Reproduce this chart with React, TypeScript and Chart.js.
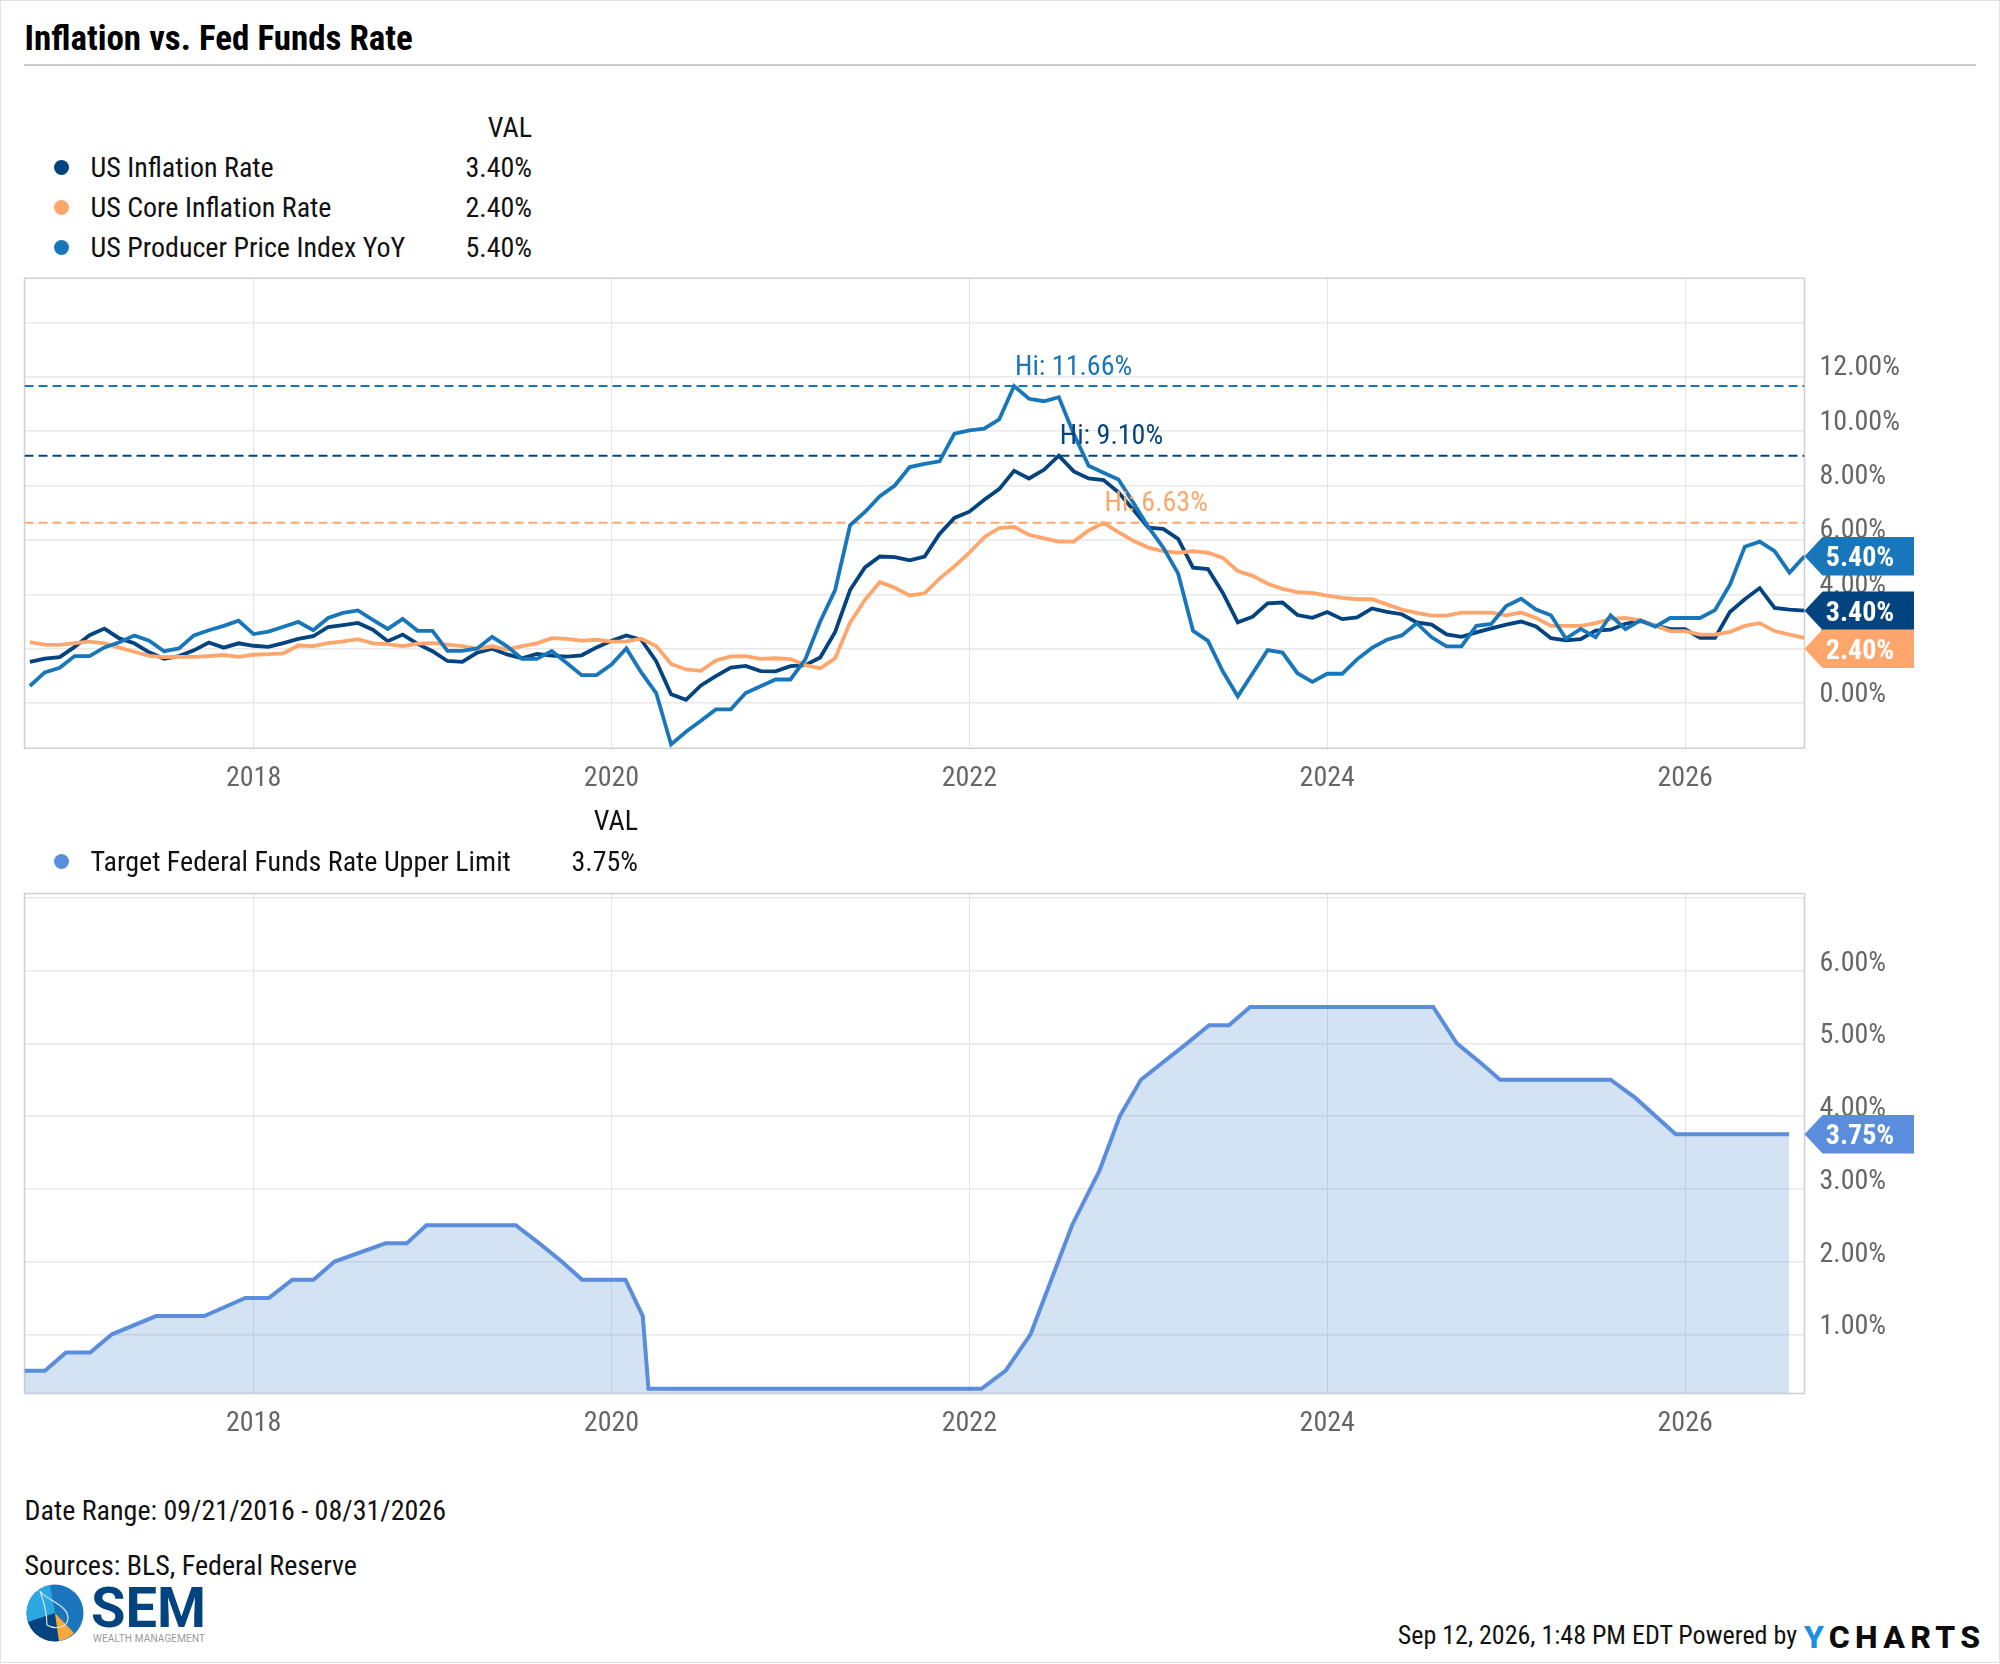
import { useEffect, useRef } from "react";
import type { CSSProperties } from "react";
import Chart from "chart.js/auto";

// monthly readings, Sep 2016 through Aug 2026
const inflation = [
  1.52, 1.64, 1.69, 2.07,
  2.5, 2.74, 2.38, 2.2, 1.87, 1.63, 1.73, 1.94, 2.23, 2.04, 2.2, 2.11,
  2.07, 2.21, 2.36, 2.46, 2.8, 2.87, 2.95, 2.7, 2.28, 2.52, 2.18, 1.91,
  1.55, 1.52, 1.86, 2.0, 1.79, 1.65, 1.81, 1.75, 1.71, 1.76, 2.05, 2.29,
  2.49, 2.33, 1.54, 0.33, 0.12, 0.65, 0.99, 1.31, 1.37, 1.18, 1.17, 1.36,
  1.4, 1.68, 2.62, 4.16, 4.99, 5.39, 5.37, 5.25, 5.39, 6.22, 6.81, 7.04,
  7.48, 7.87, 8.54, 8.26, 8.58, 9.1, 8.52, 8.26, 8.2, 7.75, 7.11, 6.45,
  6.41, 6.04, 4.98, 4.93, 4.05, 2.97, 3.18, 3.67, 3.7, 3.24, 3.14, 3.35,
  3.09, 3.15, 3.48, 3.36, 3.27, 2.97, 2.89, 2.53, 2.44, 2.6, 2.75, 2.89,
  3.0, 2.82, 2.39, 2.31, 2.35, 2.67, 2.7, 2.92, 3.02, 2.85, 2.72, 2.72,
  2.4, 2.4, 3.35, 3.82, 4.23, 3.5, 3.44, 3.4,
];
const coreInflation = [
  2.24, 2.15, 2.14, 2.21,
  2.26, 2.2, 2.04, 1.89, 1.74, 1.69, 1.7, 1.7, 1.73, 1.77, 1.7, 1.78,
  1.8, 1.83, 2.12, 2.1, 2.21, 2.27, 2.35, 2.2, 2.17, 2.1, 2.19, 2.21,
  2.15, 2.1, 2.0, 2.09, 1.97, 2.1, 2.2, 2.39, 2.36, 2.3, 2.33, 2.26,
  2.27, 2.37, 2.1, 1.44, 1.24, 1.19, 1.57, 1.72, 1.73, 1.63, 1.65, 1.62,
  1.4, 1.28, 1.65, 2.96, 3.8, 4.45, 4.24, 3.96, 4.04, 4.58, 5.03, 5.53,
  6.1, 6.44, 6.48, 6.19, 6.06, 5.94, 5.94, 6.35, 6.63, 6.29, 5.97, 5.72,
  5.59, 5.53, 5.59, 5.53, 5.34, 4.86, 4.68, 4.39, 4.2, 4.08, 4.05, 3.95,
  3.87, 3.82, 3.82, 3.63, 3.44, 3.32, 3.22, 3.22, 3.33, 3.33, 3.33, 3.23,
  3.33, 3.13, 2.84, 2.84, 2.84, 2.94, 3.1, 3.13, 3.04, 2.85, 2.65, 2.65,
  2.52, 2.52, 2.62, 2.84, 2.94, 2.65, 2.52, 2.4,
];
const producerPrices = [
  0.63, 1.13, 1.3, 1.73,
  1.73, 2.05, 2.24, 2.49, 2.3, 1.91, 2.01, 2.49, 2.68, 2.84, 3.03, 2.54,
  2.63, 2.81, 2.99, 2.68, 3.13, 3.32, 3.41, 3.06, 2.73, 3.1, 2.66, 2.66,
  1.92, 1.92, 2.01, 2.44, 2.09, 1.63, 1.63, 1.92, 1.48, 1.03, 1.03, 1.42,
  2.01, 1.13, 0.37, -1.52, -1.05, -0.65, -0.23, -0.23, 0.37, 0.62, 0.87, 0.87,
  1.61, 3.0, 4.16, 6.54, 7.03, 7.61, 8.0, 8.68, 8.8, 8.89, 9.91, 10.03,
  10.09, 10.43, 11.66, 11.19, 11.1, 11.25, 9.9, 8.73, 8.47, 8.22, 7.37, 6.48,
  5.72, 4.77, 2.66, 2.29, 1.16, 0.25, 1.1, 1.95, 1.86, 1.1, 0.78, 1.08,
  1.08, 1.61, 2.03, 2.33, 2.49, 2.94, 2.42, 2.09, 2.09, 2.84, 2.91, 3.57,
  3.84, 3.44, 3.23, 2.37, 2.73, 2.42, 3.23, 2.72, 3.04, 2.81, 3.13, 3.13,
  3.13, 3.42, 4.35, 5.75, 5.94, 5.59, 4.8, 5.4,
];
// fed funds only changes at meetings, so these are the corners of the line
const fedDates = [
  2016.72, 2016.834, 2016.952, 2017.087, 2017.209, 2017.455, 2017.725, 2017.954,
  2018.086, 2018.217, 2018.335, 2018.453, 2018.738, 2018.856, 2018.966, 2019.465,
  2019.597, 2019.722, 2019.836, 2020.078, 2020.175, 2020.207, 2022.068, 2022.203,
  2022.342, 2022.574, 2022.727, 2022.841, 2022.959, 2023.216, 2023.34, 2023.451,
  2023.569, 2024.592, 2024.724, 2024.848, 2024.966, 2025.583, 2025.722, 2025.947,
  2026.581,
];
const fedRate = [
  0.5, 0.5, 0.75, 0.75, 1, 1.25, 1.25, 1.5,
  1.5, 1.75, 1.75, 2, 2.25, 2.25, 2.5, 2.5,
  2.25, 2, 1.75, 1.75, 1.25, 0.25, 0.25, 0.5,
  1, 2.5, 3.25, 4, 4.5, 5, 5.25, 5.25,
  5.5, 5.5, 5, 4.75, 4.5, 4.5, 4.25, 3.75,
  3.75,
];
const yearTicks = [2018, 2020, 2022, 2024, 2026];
const inflationTicks = [0, 2, 4, 6, 8, 10, 12, 14];
const fedTicks = [1, 2, 3, 4, 5, 6, 7];
const inflationHighs = [11.66, 9.1, 6.63];

const X_MIN = 2016.72;
const X_MAX = 2026.667;
const NAVY = "#03437f";
const PEACH = "#ffa66d";
const BLUE = "#1777ba";
const FED = "#5a8ddb";
const FAMILY = "Roboto";
// chart.js passes weight straight into the canvas font string, so this gets the condensed width
const TICK_FONT = { family: FAMILY, size: 28, weight: "condensed" } as any;

const monthX = (i: number) => 2016 + (8 + i + 1) / 12;
const toPoints = (vals: number[]) => vals.map((y, i) => ({ x: monthX(i), y }));
const pct = (v: number) => v.toFixed(2) + "%";

function drawPill(ctx: CanvasRenderingContext2D, tipX: number, cy: number, color: string, text: string) {
  const h = 38.5;
  ctx.save();
  ctx.fillStyle = color;
  ctx.beginPath();
  ctx.moveTo(tipX, cy);
  ctx.lineTo(tipX + 18, cy - h / 2);
  ctx.lineTo(1914, cy - h / 2);
  ctx.lineTo(1914, cy + h / 2);
  ctx.lineTo(tipX + 18, cy + h / 2);
  ctx.closePath();
  ctx.fill();
  ctx.fillStyle = "#fff";
  ctx.font = `bold condensed 28px ${FAMILY}`;
  ctx.textAlign = "center";
  ctx.textBaseline = "middle";
  ctx.fillText(text, 1860, cy + 3);
  ctx.restore();
}

const frame = {
  id: "frame",
  beforeDatasetsDraw(chart: any) {
    const { ctx, chartArea: a } = chart;
    ctx.save();
    ctx.strokeStyle = "#cfcfcf";
    ctx.lineWidth = 1.5;
    ctx.strokeRect(a.left, a.top, a.width, a.height);
    ctx.restore();
  },
};

function scales(yMin: number, yMax: number, ticks: number[], axisHeight: number, labelOffset: number, xPadding: number) {
  return {
    x: {
      type: "linear",
      min: X_MIN,
      max: X_MAX,
      afterBuildTicks: (s: any) => (s.ticks = yearTicks.map((value) => ({ value }))),
      afterFit: (s: any) => {
        s.height = axisHeight;
        s.paddingLeft = 0;
        s.paddingRight = 0;
      },
      ticks: {
        font: TICK_FONT,
        color: "#666",
        padding: xPadding,
        maxRotation: 0,
        autoSkip: false,
        callback: (v: any) => String(v),
      },
      grid: { color: "#e3e3e3", lineWidth: 1, drawTicks: false },
      border: { display: false },
    },
    y: {
      position: "right",
      min: yMin,
      max: yMax,
      afterBuildTicks: (s: any) => (s.ticks = ticks.map((value) => ({ value }))),
      afterFit: (s: any) => {
        s.width = 195.5;
        s.paddingTop = 0;
        s.paddingBottom = 0;
      },
      ticks: {
        font: TICK_FONT,
        color: "#666",
        padding: 15,
        crossAlign: "near",
        labelOffset,
        autoSkip: false,
        callback: (v: any) => (v === ticks[ticks.length - 1] ? "" : pct(v)),
      },
      grid: { color: "#e8e8e8", lineWidth: 1.5, drawTicks: false },
      border: { display: false },
    },
  };
}

function InflationChart() {
  const ref = useRef<HTMLCanvasElement>(null);
  useEffect(() => {
    if (!ref.current) return;
    const series = [
      { label: "US Inflation Rate", data: inflation, color: NAVY, order: 3, nudge: 0 },
      { label: "US Core Inflation Rate", data: coreInflation, color: PEACH, order: 2, nudge: 11 },
      { label: "US Producer Price Index YoY", data: producerPrices, color: BLUE, order: 1, nudge: 0 },
    ];
    const highs = [2, 0, 1]; // series index for each entry of inflationHighs
    const chart = new Chart(ref.current, {
      type: "line",
      data: {
        datasets: [
          ...series.map((s) => ({
            label: s.label,
            data: toPoints(s.data),
            borderColor: s.color,
            borderWidth: 3.8,
            pointRadius: 0,
            tension: 0,
            order: s.order,
          })),
          ...inflationHighs.map((v, i) => ({
            label: "Hi " + v,
            data: [{ x: X_MIN, y: v }, { x: X_MAX, y: v }],
            borderColor: series[highs[i]].color,
            borderWidth: 2,
            borderDash: [9, 5],
            pointRadius: 0,
            order: 4,
          })),
        ],
      },
      options: {
        animation: false,
        responsive: false,
        devicePixelRatio: 1,
        layout: { padding: { left: 24.5, top: 18.3, right: 0, bottom: 0 } },
        plugins: { legend: { display: false }, tooltip: { enabled: false } },
        scales: scales(-1.66, 15.62, inflationTicks, 51.7, -8.5, 13.5) as any,
      },
      plugins: [
        frame,
        {
          id: "labels",
          afterDraw(c: any) {
            const { ctx, scales: sc, chartArea: a } = c;
            ctx.save();
            ctx.font = `condensed 28px ${FAMILY}`;
            ctx.textBaseline = "middle";
            inflationHighs.forEach((v, i) => {
              const s = series[highs[i]];
              const peak = s.data.indexOf(v);
              ctx.fillStyle = s.color;
              ctx.fillText("Hi: " + pct(v), sc.x.getPixelForValue(monthX(peak)) + 1, sc.y.getPixelForValue(v) - 18.5);
            });
            ctx.restore();
            [series[2], series[0], series[1]].forEach((s) => {
              const last = s.data[s.data.length - 1];
              drawPill(ctx, a.right, sc.y.getPixelForValue(last) + s.nudge, s.color, pct(last));
            });
          },
        },
      ],
    } as any);
    return () => chart.destroy();
  }, []);
  return <canvas ref={ref} width={2000} height={540} style={{ position: "absolute", left: 0, top: 260, display: "block" }} />;
}

function FedChart() {
  const ref = useRef<HTMLCanvasElement>(null);
  useEffect(() => {
    if (!ref.current) return;
    const chart = new Chart(ref.current, {
      type: "line",
      data: {
        datasets: [
          {
            label: "Target Federal Funds Rate Upper Limit",
            data: fedRate.map((y, i) => ({ x: fedDates[i], y })),
            borderColor: FED,
            backgroundColor: "rgba(90,145,212,0.26)",
            borderWidth: 4,
            pointRadius: 0,
            tension: 0,
            fill: "start",
          },
        ],
      },
      options: {
        animation: false,
        responsive: false,
        devicePixelRatio: 1,
        layout: { padding: { left: 24.5, top: 13.5, right: 0, bottom: 0 } },
        plugins: { legend: { display: false }, tooltip: { enabled: false } },
        scales: scales(0.186, 7.06, fedTicks, 46.5, -7, 13.5) as any,
      },
      plugins: [
        frame,
        {
          id: "pill",
          afterDraw(c: any) {
            const last = fedRate[fedRate.length - 1];
            drawPill(c.ctx, c.chartArea.right, c.scales.y.getPixelForValue(last), FED, pct(last));
          },
        },
      ],
    } as any);
    return () => chart.destroy();
  }, []);
  return <canvas ref={ref} width={2000} height={560} style={{ position: "absolute", left: 0, top: 880, display: "block" }} />;
}

// text placed by its vertical centre, left or right anchored
function Text({ x, cy, right, size = 28, style, children }: { x: number; cy: number; right?: boolean; size?: number; style?: CSSProperties; children: any }) {
  const pos: CSSProperties = right ? { right: 2000 - x } : { left: x };
  return (
    <div
      style={{
        position: "absolute",
        top: cy - 24,
        height: 50,
        lineHeight: "50px",
        fontFamily: FAMILY,
        fontStretch: "condensed",
        fontSize: size,
        color: "#111",
        whiteSpace: "nowrap",
        ...pos,
        ...style,
      }}
    >
      {children}
    </div>
  );
}

function Dot({ cy, color }: { cy: number; color: string }) {
  return <div style={{ position: "absolute", left: 54, top: cy - 7.5, width: 15, height: 15, borderRadius: "50%", background: color }} />;
}

function Logo() {
  return (
    <>
      <svg style={{ position: "absolute", left: 23, top: 1582 }} width={64} height={62} viewBox="-32 -31 64 62">
        <circle r={28.5} fill="#1a75bc" />
        <path d="M0 0 L-5 -28 A28.5 28.5 0 0 0 -27 9 Z" fill="#2aa8e0" />
        <path d="M0 0 L-27 9 A28.5 28.5 0 0 0 4 28 Z" fill="#03437f" />
        <path d="M0 0 L4 28 A28.5 28.5 0 0 0 19 20 Z" fill="#f9a93a" />
        <path d="M-15 -22 C-8 -12 14 -8 13 6 C12 16 -2 16 -8 12 M-15 -22 C-10 -8 -8 0 -8 12" stroke="#dfe6ee" strokeWidth={1.2} fill="none" />
      </svg>
      <Text x={91} cy={1607} size={56} style={{ fontWeight: 700, color: "#03437f", fontStretch: "normal" }}>SEM</Text>
      <Text x={93} cy={1638} size={10} style={{ color: "#999", fontStretch: "normal", letterSpacing: 0.15 }}>WEALTH MANAGEMENT</Text>
    </>
  );
}

export default function App() {
  return (
    <div style={{ position: "absolute", left: 0, top: 0, width: 2000, height: 1664, background: "#fff", overflow: "hidden" }}>
      <div style={{ position: "absolute", left: 0, top: 0, width: 1998, height: 1661, border: "solid #e2e2e2", borderWidth: "1.5px" }} />
      <Text x={24.5} cy={38} size={35} style={{ fontWeight: 700, color: "#000" }}>Inflation vs. Fed Funds Rate</Text>
      <div style={{ position: "absolute", left: 24, top: 64, width: 1952, height: 1.5, background: "#ccc" }} />

      <Text x={532} cy={127} right>VAL</Text>
      <Dot cy={167} color={NAVY} />
      <Text x={90.5} cy={167}>US Inflation Rate</Text>
      <Text x={532} cy={167} right>3.40%</Text>
      <Dot cy={207} color={PEACH} />
      <Text x={90.5} cy={207}>US Core Inflation Rate</Text>
      <Text x={532} cy={207} right>2.40%</Text>
      <Dot cy={247} color={BLUE} />
      <Text x={90.5} cy={247}>US Producer Price Index YoY</Text>
      <Text x={532} cy={247} right>5.40%</Text>

      <InflationChart />

      <Text x={638} cy={820} right>VAL</Text>
      <Dot cy={861} color={FED} />
      <Text x={90.5} cy={861}>Target Federal Funds Rate Upper Limit</Text>
      <Text x={638} cy={861} right>3.75%</Text>

      <FedChart />

      <Text x={24.5} cy={1510}>Date Range: 09/21/2016 - 08/31/2026</Text>
      <Text x={24.5} cy={1565}>Sources: BLS, Federal Reserve</Text>
      <Logo />
      <Text x={1797} cy={1634} right size={26}>Sep 12, 2026, 1:48 PM EDT Powered by</Text>
      <Text x={1804} cy={1636} size={32} style={{ fontWeight: 800, fontStretch: "normal", letterSpacing: 5.3, color: "#0b0b0b" }}>
        <span style={{ color: "#1a8fe3" }}>Y</span>CHARTS
      </Text>
    </div>
  );
}
